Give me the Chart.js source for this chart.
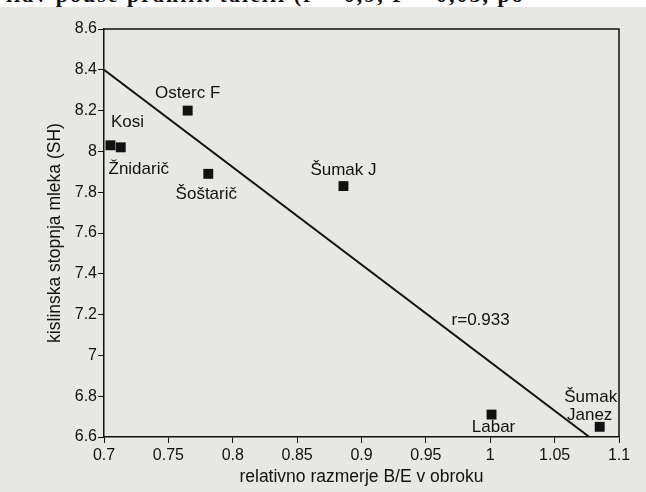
<!DOCTYPE html>
<html>
<head>
<meta charset="utf-8">
<script src="https://cdn.jsdelivr.net/npm/chart.js@4.4.0/dist/chart.umd.min.js"></script>
<style>
  body { margin: 0; background: #e7e7e4; }
  #wrap { position: relative; width: 646px; height: 492px; }
  #strip { position: absolute; left: 0; top: 0; width: 646px; height: 7px; background: #fff; overflow: hidden; }
  #strip span { position: absolute; left: 6px; top: -18px; font: bold 22px "Liberation Serif", serif; color: #111; white-space: nowrap; letter-spacing: 2px; }
</style>
</head>
<body>
<div id="wrap">
  <canvas id="chart"></canvas>
  <div id="strip"><span>ilav pouše prahili. talcili (r = 0,9, P = 0,05, po</span></div>
</div>
<script>
// farms and their values
const names = ['Kosi', 'Žnidarič', 'Osterc F', 'Šoštarič', 'Šumak J', 'Labar', 'Šumak Janez'];
const ratioBE = [0.705, 0.713, 0.765, 0.781, 0.886, 1.001, 1.085];
const acidity = [8.03, 8.02, 8.2, 7.89, 7.83, 6.71, 6.65];

// regression line ends
const fitX = [0.7, 1.077];
const fitY = [8.4, 6.6];
const rText = 'r=0.933';

const xTicks = [0.7, 0.75, 0.8, 0.85, 0.9, 0.95, 1, 1.05, 1.1];
const yTicks = [6.6, 6.8, 7, 7.2, 7.4, 7.6, 7.8, 8, 8.2, 8.4, 8.6];

// where each label sits relative to its square (px)
const labelPos = {
  'Kosi': { dx: 17, dy: -23 },
  'Žnidarič': { dx: 18, dy: 22 },
  'Osterc F': { dx: 0, dy: -17 },
  'Šoštarič': { dx: -2, dy: 20 },
  'Šumak J': { dx: 0, dy: -16 },
  'Labar': { dx: 2, dy: 13 },
  'Šumak Janez': { dx: -9, dy: -29, wrap: true }
};

const fmt = v => String(Number(v.toFixed(2)));

const labelsPlugin = {
  id: 'labels',
  afterDatasetsDraw(chart) {
    const { ctx, chartArea, scales } = chart;
    ctx.save();
    // frame top and right
    ctx.strokeStyle = '#111';
    ctx.lineWidth = 1.5;
    ctx.beginPath();
    ctx.moveTo(chartArea.left, chartArea.top);
    ctx.lineTo(chartArea.right, chartArea.top);
    ctx.lineTo(chartArea.right, chartArea.bottom);
    ctx.stroke();

    ctx.fillStyle = '#111';
    ctx.font = '17px Arial, "Liberation Sans", sans-serif';
    ctx.textAlign = 'center';
    ctx.textBaseline = 'middle';
    names.forEach((n, i) => {
      const p = labelPos[n];
      const x = scales.x.getPixelForValue(ratioBE[i]) + p.dx;
      const y = scales.y.getPixelForValue(acidity[i]) + p.dy;
      const lines = p.wrap ? n.split(' ') : [n];
      lines.forEach((t, k) => ctx.fillText(t, x - k, y + k * 18));
    });

    // correlation label next to the line
    const lx = 0.97;
    const ly = fitY[0] + (fitY[1] - fitY[0]) * (lx - fitX[0]) / (fitX[1] - fitX[0]);
    ctx.font = '17px Arial, "Liberation Sans", sans-serif';
    ctx.fillText(rText, scales.x.getPixelForValue(lx) + 29, scales.y.getPixelForValue(ly) - 12);
    ctx.restore();
  }
};

new Chart(document.getElementById('chart'), {
  type: 'scatter',
  data: {
    datasets: [
      {
        type: 'line',
        data: fitX.map((x, i) => ({ x: x, y: fitY[i] })),
        borderColor: '#111',
        borderWidth: 2,
        pointRadius: 0,
        fill: false
      },
      {
        data: ratioBE.map((x, i) => ({ x: x, y: acidity[i] })),
        pointStyle: 'rect',
        pointRadius: 7,
        backgroundColor: '#111',
        borderColor: '#111',
        borderWidth: 0
      }
    ]
  },
  options: {
    responsive: true,
    maintainAspectRatio: false,
    animation: false,
    layout: { padding: { left: 45, top: 29, right: 27, bottom: 4 } },
    plugins: { legend: { display: false }, tooltip: { enabled: false } },
    scales: {
      x: {
        type: 'linear',
        min: 0.7,
        max: 1.1,
        afterBuildTicks: s => { s.ticks = xTicks.map(v => ({ value: v })); },
        afterFit: s => { s.height = 51; },
        grid: { drawOnChartArea: false, tickLength: 6, color: '#111' },
        border: { color: '#111', width: 1.5 },
        ticks: { color: '#111', padding: 3, maxRotation: 0, font: { family: 'Arial', size: 16 }, callback: v => fmt(v) },
        title: { display: true, text: 'relativno razmerje B/E v obroku', color: '#111', padding: 0, font: { family: 'Arial', size: 17.5 } }
      },
      y: {
        type: 'linear',
        min: 6.6,
        max: 8.6,
        afterBuildTicks: s => { s.ticks = yTicks.map(v => ({ value: v })); },
        afterFit: s => { s.width = 59; },
        grid: { drawOnChartArea: false, tickLength: 6, color: '#111' },
        border: { color: '#111', width: 1.5 },
        ticks: { color: '#111', padding: 1, font: { family: 'Arial', size: 16 }, callback: v => fmt(v) },
        title: { display: true, text: 'kislinska stopnja mleka (SH)', color: '#111', padding: 0, font: { family: 'Arial', size: 17.5 } }
      }
    }
  },
  plugins: [labelsPlugin]
});
</script>
</body>
</html>
